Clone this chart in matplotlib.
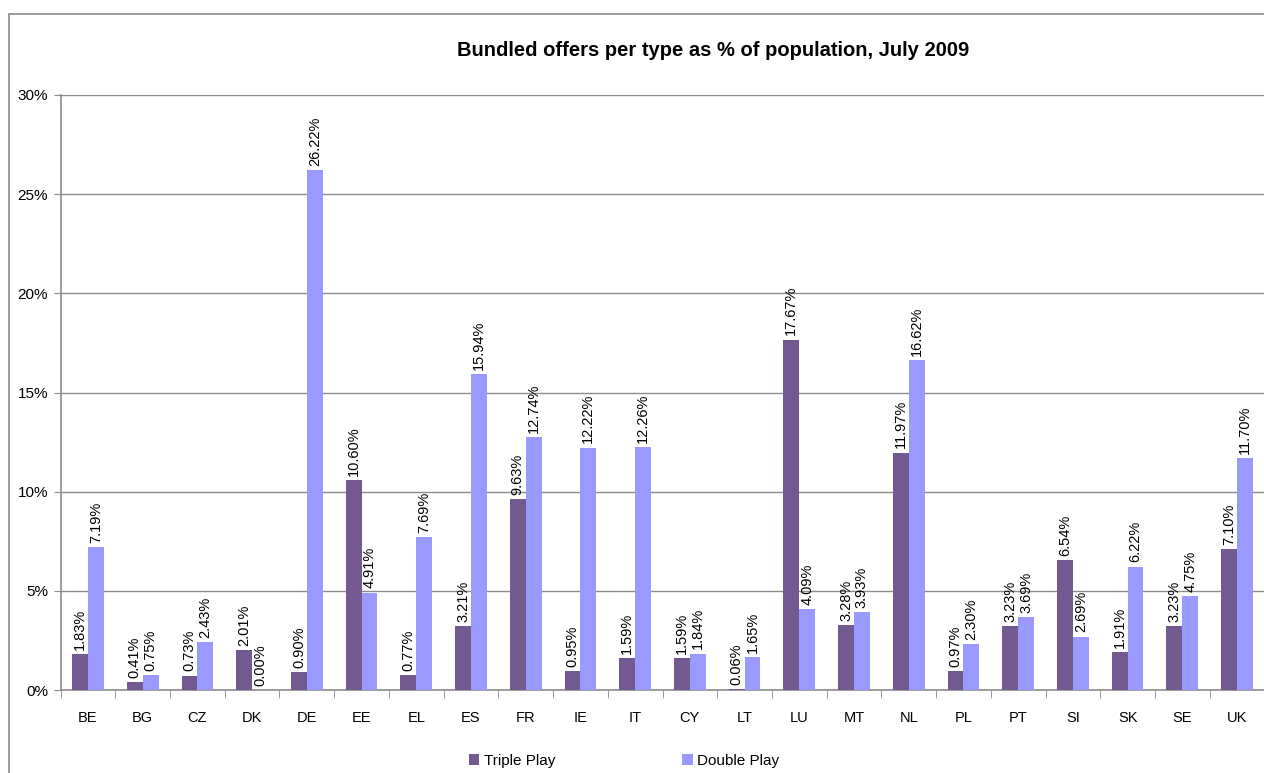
import numpy as np
import matplotlib.pyplot as plt
from matplotlib.patches import Rectangle
from matplotlib.ticker import FixedLocator, FuncFormatter

plt.rcParams['font.family'] = ['Liberation Sans', 'DejaVu Sans']

countries = ['BE', 'BG', 'CZ', 'DK', 'DE', 'EE', 'EL', 'ES', 'FR', 'IE', 'IT',
             'CY', 'LT', 'LU', 'MT', 'NL', 'PL', 'PT', 'SI', 'SK', 'SE', 'UK']
triple = [1.83, 0.41, 0.73, 2.01, 0.90, 10.60, 0.77, 3.21, 9.63, 0.95, 1.59,
          1.59, 0.06, 17.67, 3.28, 11.97, 0.97, 3.23, 6.54, 1.91, 3.23, 7.10]
double = [7.19, 0.75, 2.43, 0.00, 26.22, 4.91, 7.69, 15.94, 12.74, 12.22, 12.26,
          1.84, 1.65, 4.09, 3.93, 16.62, 2.30, 3.69, 2.69, 6.22, 4.75, 11.70]

c_triple = '#725990'
c_double = '#9999ff'
grey = '#8c8c8c'

fig = plt.figure(figsize=(12.64, 7.73), dpi=100)
# outer chart frame (runs off the right and bottom edges)
fig.patches.append(Rectangle((9 / 1264, -0.05), 1.2, 1 - 14 / 773 + 0.05,
                             transform=fig.transFigure, fill=False,
                             edgecolor=grey, linewidth=1.2))

ax = fig.add_axes([60.6 / 1264, 1 - 690 / 773, (1264.4 - 60.6) / 1264, (690 - 95) / 773])

x = np.arange(len(countries))
w = 0.29
b1 = ax.bar(x - w / 2, triple, w, color=c_triple, label='Triple Play', zorder=3)
b2 = ax.bar(x + w / 2, double, w, color=c_double, label='Double Play', zorder=3)

for bars, vals in ((b1, triple), (b2, double)):
    for r, v in zip(bars, vals):
        ax.annotate(f'{v:.2f}%', (r.get_x() + r.get_width() / 2, r.get_height()),
                    xytext=(0, 3), textcoords='offset points', rotation=90,
                    ha='center', va='bottom', fontsize=10.5)

ax.set_xlim(-0.5, len(countries) - 0.5)
ax.set_ylim(0, 30)
ax.set_yticks([0, 5, 10, 15, 20, 25, 30])
ax.yaxis.set_major_formatter(FuncFormatter(lambda v, p: f'{v:.0f}%'))
ax.grid(axis='y', color=grey, linewidth=1, zorder=0)

ax.set_xticks(x)
ax.set_xticklabels(countries)
ax.xaxis.set_minor_locator(FixedLocator(np.arange(-0.5, len(countries), 1)))
ax.tick_params(axis='x', which='major', length=0, pad=15, labelsize=10.5)
ax.tick_params(axis='x', which='minor', length=6, color=grey, direction='out')
ax.tick_params(axis='y', length=5, color=grey, labelsize=11, pad=4)

for s in ('top', 'right'):
    ax.spines[s].set_visible(False)
for s in ('left', 'bottom'):
    ax.spines[s].set_color(grey)
    ax.spines[s].set_linewidth(1.2)

fig.text(713 / 1264, 1 - 50 / 773, 'Bundled offers per type as % of population, July 2009',
         ha='center', va='center', fontsize=14.5, fontweight='bold')

fig.legend(handles=[b1, b2], loc='center', bbox_to_anchor=(624 / 1264, 1 - 761 / 773),
           ncol=2, frameon=False, fontsize=11, handlelength=0.7, handleheight=0.7,
           handletextpad=0.3, columnspacing=8.3)

fig.savefig('out.png', dpi=100)
